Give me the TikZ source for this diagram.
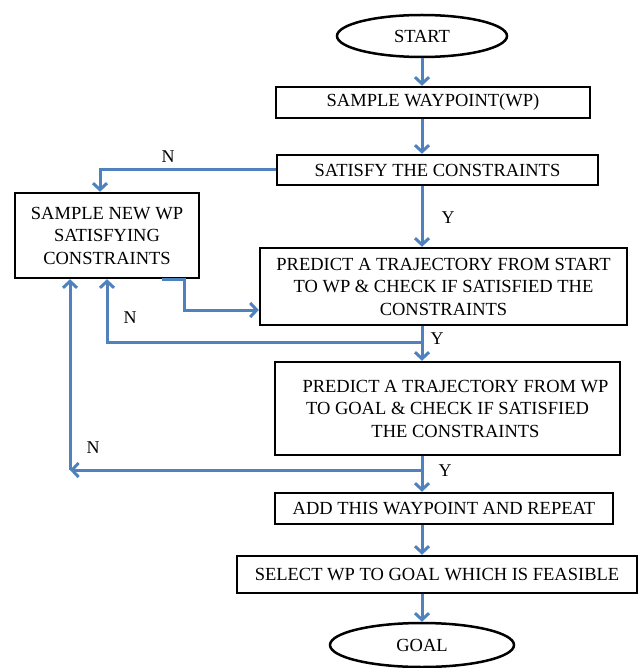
\documentclass[tikz,border=0pt]{standalone}
\usepackage{fontspec}
\setmainfont{Liberation Serif}
\usetikzlibrary{arrows.meta,shapes.geometric}
\definecolor{arrblue}{RGB}{79,129,189}
\tikzset{
  box/.style={draw=black, line width=2.5pt, rectangle, inner sep=0pt, align=center,
    font=\fontsize{18.5}{22.5}\selectfont},
  oval/.style={draw=black, line width=2.5pt, ellipse, inner sep=0pt,
    font=\fontsize{18.5}{22}\selectfont},
  arr/.style={draw=arrblue, line width=3pt, -{Straight Barb[length=6.5pt,width=14pt]}},
  lbl/.style={font=\fontsize{18}{20}\selectfont, inner sep=0pt}
}
\begin{document}
\begin{tikzpicture}[x=1pt,y=-1pt]
\useasboundingbox (0,0) rectangle (639,668);
\node[oval, minimum width=170pt, minimum height=42pt] (start) at (422,36) {START};
\node[box, minimum width=314pt, minimum height=31pt] (sw) at (433,102.5) {SAMPLE WAYPOINT(WP)};
\node[box, minimum width=321pt, minimum height=30pt] (sat) at (437.5,170) {SATISFY THE CONSTRAINTS};
\node[box, minimum width=184pt, minimum height=85pt] (new) at (107,235.5) {SAMPLE NEW WP\\SATISFYING\\CONSTRAINTS};
\node[box, minimum width=367pt, minimum height=77pt] (p1) at (443.5,286.5) {PREDICT A TRAJECTORY FROM START\\TO WP \& CHECK IF SATISFIED THE\\CONSTRAINTS};
\node[box, minimum width=345pt, minimum height=93pt] (p2) at (447.5,408.5) {\hspace*{16pt}PREDICT A TRAJECTORY FROM WP\\TO GOAL \& CHECK IF SATISFIED\\\hspace*{16pt}THE CONSTRAINTS};
\node[box, minimum width=338pt, minimum height=31pt] (add) at (444,508.5) {ADD THIS WAYPOINT AND REPEAT};
\node[box, minimum width=400pt, minimum height=37pt] (sel) at (437,574.5) {SELECT WP TO GOAL WHICH IS FEASIBLE};
\node[oval, minimum width=184pt, minimum height=44pt] (goal) at (422,645) {GOAL};

\coordinate (col) at (422,0);
\coordinate (j1) at (422,342);
\coordinate (j2) at (422,470);
\coordinate (c2) at (70,470);

\draw[arr] (start.south) -- (col |- sw.north);
\draw[arr] (col |- sw.south) -- (col |- sat.north);
\draw[arr] (sat.west) -| ([xshift=-7pt]new.north);
\draw[arr] (col |- sat.south) -- (col |- p1.north);
\draw[arr] ([xshift=55pt]new.south) -- ([xshift=77pt]new.south) |- ([yshift=-23.5pt]p1.west);
\draw[arr] (col |- p1.south) -- (col |- p2.north);
\draw[arr] (j1) -| (new.south);
\draw[arr] (col |- p2.south) -- (col |- add.north);
\draw[arr] (j2) -- (c2);
\draw[arr] (c2) -- (c2 |- new.south);
\draw[arr] (col |- add.south) -- (col |- sel.north);
\draw[arr] (col |- sel.south) -- (col |- goal.north);

\node[lbl] (n1) at (168,157) {N};
\node[lbl] (n2) at (130,318) {N};
\node[lbl] (n3) at (93,448) {N};
\node[lbl] (y1) at (448,218) {Y};
\node[lbl] (y2) at (437,339) {Y};
\node[lbl] (y3) at (445,471) {Y};
\end{tikzpicture}
\end{document}
